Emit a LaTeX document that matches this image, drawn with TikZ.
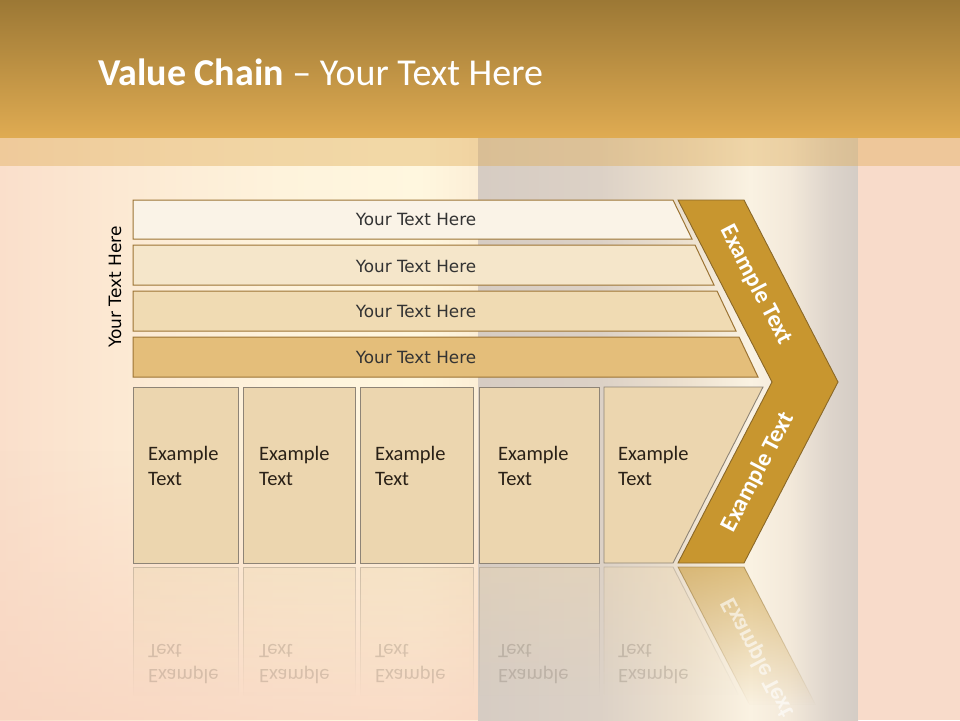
\documentclass[tikz,border=0pt]{standalone}
\usepackage{fontspec}
\setmainfont{Carlito}
\newfontfamily\dvs{DejaVu Sans}
\usetikzlibrary{fadings}
\definecolor{hdtop}{HTML}{9C7835}
\definecolor{hdbot}{HTML}{DFAB52}
\definecolor{rightbg}{HTML}{F8DBCA}
\definecolor{peach}{HTML}{F8D3BF}
\definecolor{barA}{HTML}{FAF3E7}
\definecolor{barB}{HTML}{F5E6CA}
\definecolor{barC}{HTML}{F0DBB3}
\definecolor{barD}{HTML}{E4BE7A}
\definecolor{barline}{HTML}{9C7434}
\definecolor{chevfill}{HTML}{C8962F}
\definecolor{chevline}{HTML}{8A6828}
\definecolor{boxfill}{HTML}{ECD6AF}
\definecolor{boxline}{HTML}{8E8476}
\definecolor{txtdark}{HTML}{2A2117}
\definecolor{txtbar}{HTML}{333333}
\definecolor{lbA}{HTML}{FADFCB}
\definecolor{lbB}{HTML}{FCE9D3}
\definecolor{lbC}{HTML}{FEF3DC}
\definecolor{lbD}{HTML}{FFF7DF}
\definecolor{lbE}{HTML}{FCEED6}
\pgfdeclarehorizontalshading{leftbg}{100bp}{color(0bp)=(lbA); color(25bp)=(lbA); color(37.5bp)=(lbB); color(54.3bp)=(lbC); color(68.9bp)=(lbD); color(75bp)=(lbE); color(100bp)=(lbE)}
\definecolor{colA}{HTML}{D6CCC3}
\definecolor{colB}{HTML}{DCD1C6}
\definecolor{colC}{HTML}{EEE2D0}
\definecolor{colD}{HTML}{FAF2E2}
\definecolor{colE}{HTML}{F3E9DA}
\definecolor{colF}{HTML}{DDD4CB}
\definecolor{colG}{HTML}{D4CCC5}
\pgfdeclarehorizontalshading{colbg}{100bp}{color(0bp)=(colA); color(25bp)=(colA); color(41bp)=(colB); color(52.9bp)=(colC); color(60.8bp)=(colD); color(66bp)=(colE); color(71.3bp)=(colF); color(75bp)=(colG); color(100bp)=(colG)}
\tikzfading[name=reflfade, top color=transparent!62, bottom color=transparent!100]
\tikzfading[name=chevfade, top color=transparent!45, bottom color=transparent!100]
\tikzfading[name=fadeup, top color=transparent!100, bottom color=transparent!0]
\tikzset{
  barshape/.style={draw=barline, line width=1pt},
  bartext/.style={font=\dvs\fontsize{16.8}{20}\selectfont, text=txtbar, inner sep=0pt},
  boxshape/.style={draw=boxline, line width=0.9pt, fill=boxfill},
  boxtext/.style={font=\fontsize{20.5}{25.7}\selectfont, text=txtdark, align=left, anchor=west, inner sep=0pt},
  chevtext/.style={font=\bfseries\fontsize{24}{28}\selectfont, text=white, inner sep=0pt},
  reflbox/.style={draw=boxline, fill=boxfill, line width=0.9pt, path fading=reflfade},
  refltext/.style={font=\fontsize{20.5}{25.7}\selectfont, text=txtdark, text opacity=0.16, align=left, anchor=west, inner sep=0pt, yscale=-1}
}
\begin{document}
\begin{tikzpicture}[x=1pt,y=-1pt]
\useasboundingbox (0,0) rectangle (960,720);
% background
\shade[shading=leftbg] (0,137) rectangle (478,720);
\shade[shading=colbg] (478,137) rectangle (858,720);
\fill[rightbg] (858,137) rectangle (960,720);
\fill[peach, path fading=fadeup, opacity=0.75] (0,450) rectangle (478,720);
\fill[hdbot, opacity=0.4] (0,137) rectangle (960,166);
% header
\shade[top color=hdtop, bottom color=hdbot] (0,0) rectangle (960,137);
\node[anchor=base west, inner sep=0pt, text=white, font=\fontsize{38}{40}\selectfont] (title) at (98,85) {\textbf{Value Chain} – Your Text Here};
% bars
\draw[barshape, fill=barA] (133,200) -- (673,200) -- (692,239) -- (133,239) -- cycle;
\draw[barshape, fill=barB] (133,245) -- (695,245) -- (714,285) -- (133,285) -- cycle;
\draw[barshape, fill=barC] (133,291) -- (717,291) -- (736,331) -- (133,331) -- cycle;
\draw[barshape, fill=barD] (133,337) -- (739,337) -- (758,377) -- (133,377) -- cycle;
\node[bartext] (b1) at (416,219.5) {Your Text Here};
\node[bartext] (b2) at (416,266) {Your Text Here};
\node[bartext] (b3) at (416,311) {Your Text Here};
\node[bartext] (b4) at (416,357) {Your Text Here};
\node[font=\dvs\fontsize{17}{20}\selectfont, text=black, rotate=90, inner sep=0pt] (side) at (115,287) {Your Text Here};
% chevron
\draw[draw=chevline, line width=0.9pt, fill=chevfill] (678,200) -- (744,200) -- (838,382) -- (744,563) -- (678,563) -- (772,382) -- cycle;
\node[chevtext, rotate=-62.5] (c1) at (756,285) {Example Text};
\node[chevtext, rotate=62.5] (c2) at (758,472) {Example Text};
% boxes
\draw[boxshape] (133,387) rectangle (238,563);
\draw[boxshape] (243,387) rectangle (355,563);
\draw[boxshape] (360,387) rectangle (473,563);
\draw[boxshape] (479,387) rectangle (599,563);
\draw[boxshape] (604,387) -- (763,387) -- (673,563) -- (604,563) -- cycle;
\node[boxtext] (e1) at (148,466) {Example\\Text};
\node[boxtext] (e2) at (259,466) {Example\\Text};
\node[boxtext] (e3) at (375,466) {Example\\Text};
\node[boxtext] (e4) at (498,466) {Example\\Text};
\node[boxtext] (e5) at (618,466) {Example\\Text};
% reflections
\path[reflbox] (133,567) rectangle (238,695);
\path[reflbox] (243,567) rectangle (355,695);
\path[reflbox] (360,567) rectangle (473,695);
\path[reflbox] (479,567) rectangle (599,695);
\path[reflbox] (604,567) -- (673,567) -- (738.5,695) -- (604,695) -- cycle;
\path[draw=chevline, fill=chevfill, line width=0.9pt, path fading=chevfade] (678,567) -- (744,567) -- (815.7,705) -- (749.7,705) -- cycle;
\node[refltext] (r1) at (148,664) {Example\\Text};
\node[refltext] (r2) at (259,664) {Example\\Text};
\node[refltext] (r3) at (375,664) {Example\\Text};
\node[refltext] (r4) at (498,664) {Example\\Text};
\node[refltext] (r5) at (618,664) {Example\\Text};
\node[chevtext, text opacity=0.6, yscale=-1, rotate=62.5] (rc) at (758,658) {Example Text};
\end{tikzpicture}
\end{document}
